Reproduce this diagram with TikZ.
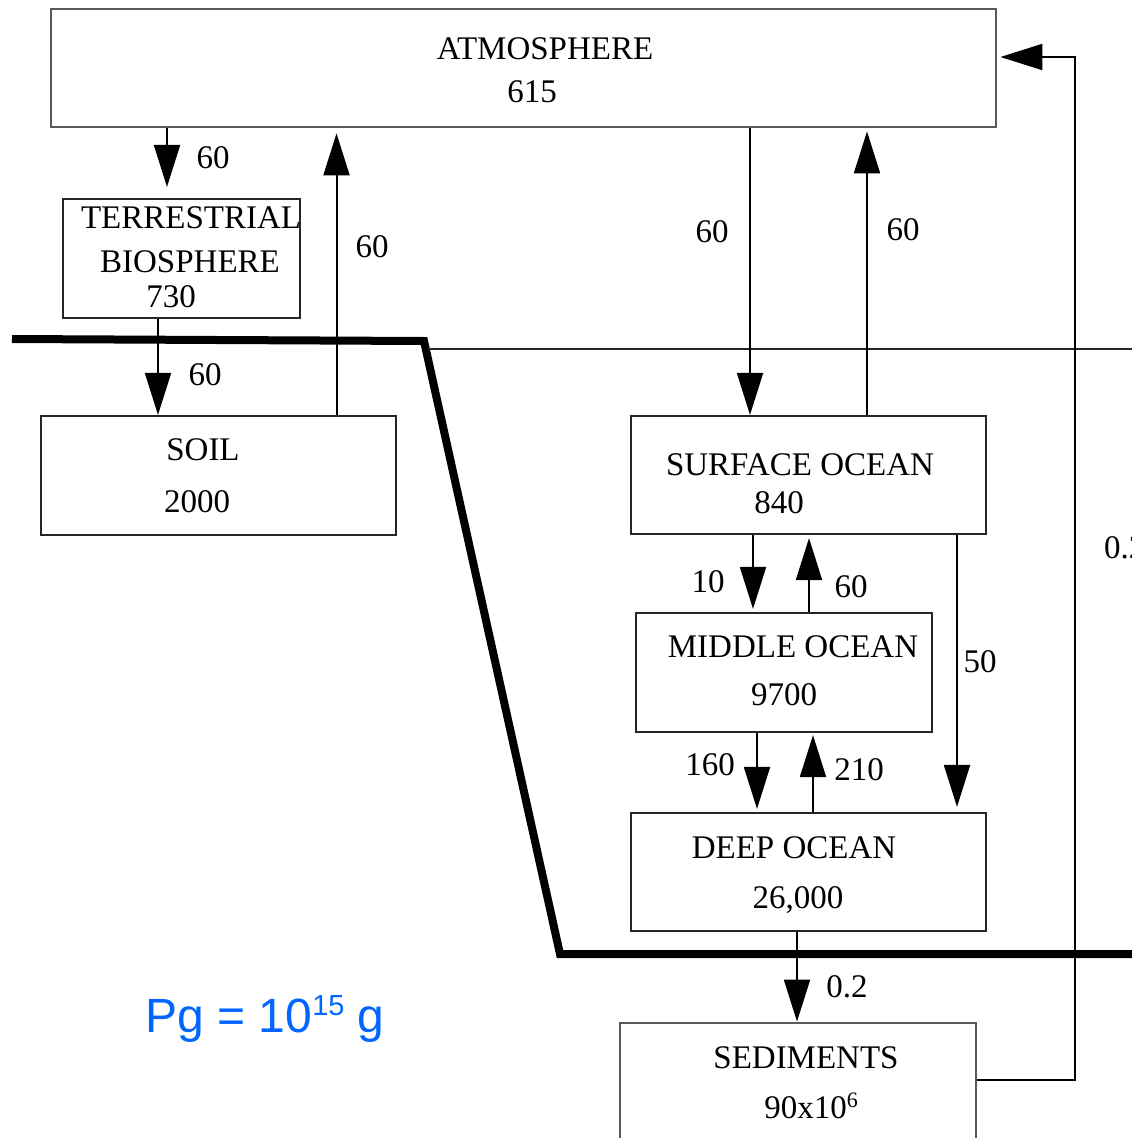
\documentclass[tikz,border=0pt]{standalone}
\usepackage{fontspec}
\setmainfont{Liberation Serif}
\newfontfamily\pgfont{Liberation Sans}
\usetikzlibrary{arrows.meta}
\definecolor{pgblue}{RGB}{0,102,255}
\begin{document}
\begin{tikzpicture}[x=1pt,y=-1pt,
  box/.style={draw=black!85, line width=2.2pt, rectangle, inner sep=0pt},
  graybox/.style={box, draw=black!65, line width=2.8pt},
  lbl/.style={font=\fontsize{33}{40}\selectfont, anchor=base, inner sep=0pt},
  arr/.style={line width=2pt, -{Triangle[length=42pt,width=26pt]}},
  conn/.style={line width=2pt}]
\useasboundingbox (0,0) rectangle (1132,1138);
\clip (0,0) rectangle (1132,1138);
\fill[white] (0,0) rectangle (1132,1138);

% boundary lines
\draw[line width=8pt] (12,339) -- (424,341) -- (560,954) -- (1145,954);
\draw[line width=1.6pt, black!85] (428,349) -- (1145,349);

% boxes
\node[graybox, minimum width=945pt, minimum height=118pt] (atm) at (523.5,68) {};
\node[box, minimum width=237pt, minimum height=119pt] (tb) at (181.5,258.5) {};
\node[box, minimum width=355pt, minimum height=119pt] (soil) at (218.5,475.5) {};
\node[box, minimum width=355pt, minimum height=118pt] (surf) at (808.5,475) {};
\node[box, minimum width=296pt, minimum height=119pt] (mid) at (784,672.5) {};
\node[box, minimum width=355pt, minimum height=118pt] (deep) at (808.5,872) {};
\node[graybox, minimum width=356pt, minimum height=140pt] (sed) at (798,1093) {};

% box texts
\node[lbl] (tatm) at (545,59) {ATMOSPHERE};
\node[lbl] (vatm) at (532,102) {615};
\node[lbl] (ttb1) at (191,228) {TERRESTRIAL};
\node[lbl] (ttb2) at (190,272) {BIOSPHERE};
\node[lbl] (vtb) at (171,307) {730};
\node[lbl] (tsoil) at (203,460) {SOIL};
\node[lbl] (vsoil) at (197,512) {2000};
\node[lbl] (tsurf) at (800,475) {SURFACE OCEAN};
\node[lbl] (vsurf) at (779,513) {840};
\node[lbl] (tmid) at (793,657) {MIDDLE OCEAN};
\node[lbl] (vmid) at (784,705) {9700};
\node[lbl] (tdeep) at (794,858) {DEEP OCEAN};
\node[lbl] (vdeep) at (798,908) {26,000};
\node[lbl] (tsed) at (806,1068) {SEDIMENTS};
\node[lbl] (vsed) at (811,1118) {90x10\raisebox{11pt}{\fontsize{22}{24}\selectfont 6}};

% x positions of connectors
\coordinate (xa) at (167,0);
\coordinate (xb) at (158,0);
\coordinate (xc) at (336.5,0);
\coordinate (xd) at (750,0);
\coordinate (xe) at (867,0);
\coordinate (xf) at (753,0);
\coordinate (xg) at (809,0);
\coordinate (xh) at (957,0);
\coordinate (xi) at (757,0);
\coordinate (xj) at (813,0);
\coordinate (xk) at (797,0);
\coordinate (xr) at (1075,0);
\coordinate (yl) at (0,1080);
\coordinate (ym) at (0,57);

% connectors
\draw[arr, shorten >=11pt] (atm.south -| xa) -- (tb.north -| xa);
\draw[arr] (tb.south -| xb) -- (soil.north -| xb);
\draw[arr, shorten >=5pt] (soil.north -| xc) -- (atm.south -| xc);
\draw[arr] (atm.south -| xd) -- (surf.north -| xd);
\draw[arr, shorten >=3pt] (surf.north -| xe) -- (atm.south -| xe);
\draw[arr, shorten >=3pt] (surf.south -| xf) -- (mid.north -| xf);
\draw[arr, shorten >=3pt] (mid.north -| xg) -- (surf.south -| xg);
\draw[arr, shorten >=5pt] (surf.south -| xh) -- (deep.north -| xh);
\draw[arr, shorten >=3pt] (mid.south -| xi) -- (deep.north -| xi);
\draw[arr, shorten >=2pt] (deep.north -| xj) -- (mid.south -| xj);
\draw[arr] (deep.south -| xk) -- (sed.north -| xk);
\draw[arr, shorten >=3pt] (sed.east |- yl) -- (xr |- yl) -- (xr |- ym) -- (atm.east |- ym);

% flux labels
\node[lbl] (f1) at (213,168) {60};
\node[lbl] (f2) at (372,257) {60};
\node[lbl] (f3) at (205,385) {60};
\node[lbl] (f4) at (712,242) {60};
\node[lbl] (f5) at (903,240) {60};
\node[lbl] (f6) at (708,592) {10};
\node[lbl] (f7) at (851,597) {60};
\node[lbl] (f8) at (980,672) {50};
\node[lbl, anchor=base west] (f9) at (1104,558) {0.2};
\node[lbl] (f10) at (710,775) {160};
\node[lbl] (f11) at (859,780) {210};
\node[lbl] (f12) at (847,997) {0.2};

% unit note
\node[font=\pgfont\fontsize{48}{56}\selectfont, text=pgblue, anchor=base, inner sep=0pt] (pg) at (265,1032) {Pg = 10\raisebox{17pt}{\fontsize{29}{32}\selectfont 15} g};
\end{tikzpicture}
\end{document}
